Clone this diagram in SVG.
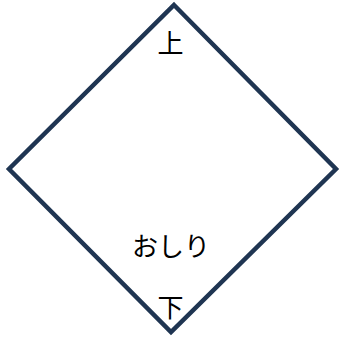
<svg xmlns="http://www.w3.org/2000/svg" width="340" height="340" viewBox="0 0 340 340">
<style>
.shape{fill:#ffffff;stroke:#1f3552;stroke-width:4.5;stroke-linejoin:miter}
.t{font-family:"Noto Sans CJK JP","Noto Sans CJK SC",sans-serif;font-size:26px;fill:#000000;text-anchor:middle;dominant-baseline:central}
</style>
<rect width="340" height="340" fill="#ffffff"/>
<g id="diamond">
<polygon class="shape" points="174,5 336,169 171,332 9,169"/>
<text class="t" x="170.5" y="41.5">上</text>
<text class="t" x="171" y="244.5">おしり</text>
<text class="t" x="170.5" y="305">下</text>
</g>
</svg>
